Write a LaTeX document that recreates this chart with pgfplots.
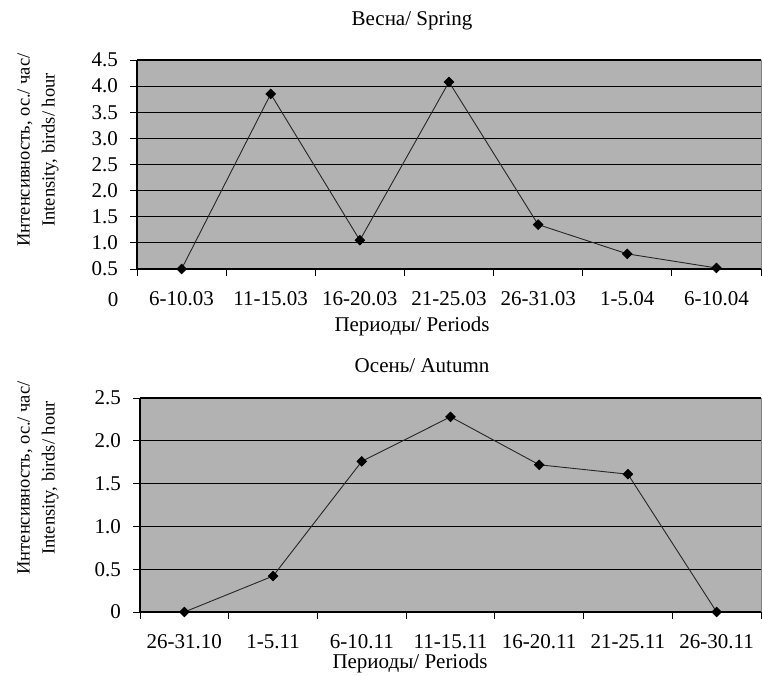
\documentclass[border=0pt]{standalone}
\usepackage{fontspec}
\setmainfont{Liberation Serif}
\usepackage{pgfplots}
\pgfplotsset{compat=1.18}
\definecolor{plotbg}{RGB}{178,178,178}
\definecolor{frame}{RGB}{128,128,128}
\newcommand{\fs}{\fontsize{21bp}{25bp}\selectfont}
\newcommand{\fy}{\fontsize{18.5bp}{25bp}\selectfont}
\pgfplotsset{myax/.style={
  scale only axis, clip=false,
  xmin=-0.5, xmax=6.5,
  xtick={-0.5,0.5,...,6.5},
  x tick label as interval,
  axis x line*=bottom, axis y line*=left,
  tick align=outside, major tick length=7bp,
  ymajorgrids,
  major grid style={black, line width=1.1bp},
  axis line style={black, line width=1.4bp},
  axis background/.style={fill=plotbg, draw=frame, line width=1bp},
  tick style={black, line width=1bp},
  ticklabel style={font=\fs},
  xticklabel style={anchor=base, inner sep=0pt, yshift=-29bp},
  yticklabel style={anchor=east, inner sep=0pt, xshift=-12bp},
}}
\tikzset{dat/.style={draw=black!85, line width=0.9bp, mark=square*, mark size=3.5bp,
     mark options={rotate=45, fill=black, draw=black, line width=0.5bp, solid}}}
\begin{document}
\fs
\begin{tikzpicture}
\path[use as bounding box] (0bp,0bp) rectangle (762bp,-676bp);
% ---------- Spring ----------
\begin{axis}[myax, at={(137bp,-269bp)}, anchor=south west, width=624bp, height=209bp,
  ymin=0.5, ymax=4.5,
  ytick={0.5,1.0,...,4.5},
  yticklabels={0.5,1.0,1.5,2.0,2.5,3.0,3.5,4.0,4.5},
  xticklabels={6-10.03,11-15.03,16-20.03,21-25.03,26-31.03,1-5.04,6-10.04}]
\addplot[dat] coordinates {(0,0.50) (1,3.85) (2,1.05) (3,4.08) (4,1.35) (5,0.79) (6,0.52)};
\end{axis}
\node[anchor=base, inner sep=0pt] at (113bp,-306bp) {0};
\node at (412bp,-21bp) {Весна/ Spring};
\node[anchor=base, inner sep=0pt] at (412bp,-331bp) {Периоды/ Periods};
\node[rotate=90, align=center, inner sep=0pt, font=\fy] at (38bp,-150bp) {Интенсивность, ос./ час/\\Intensity, birds/ hour};
% ---------- Autumn ----------
\begin{axis}[myax, at={(140bp,-612bp)}, anchor=south west, width=621bp, height=214bp,
  ymin=0, ymax=2.5,
  ytick={0,0.5,...,2.5},
  yticklabels={0,0.5,1.0,1.5,2.0,2.5},
  xticklabels={26-31.10,1-5.11,6-10.11,11-15.11,16-20.11,21-25.11,26-30.11}]
\addplot[dat] coordinates {(0,0) (1,0.42) (2,1.76) (3,2.28) (4,1.72) (5,1.61) (6,0)};
\end{axis}
\node at (422bp,-366bp) {Осень/ Autumn};
\node[anchor=base, inner sep=0pt] at (410bp,-668bp) {Периоды/ Periods};
\node[rotate=90, align=center, inner sep=0pt, font=\fy] at (38bp,-478bp) {Интенсивность, ос./ час/\\Intensity, birds/ hour};
\end{tikzpicture}
\end{document}
